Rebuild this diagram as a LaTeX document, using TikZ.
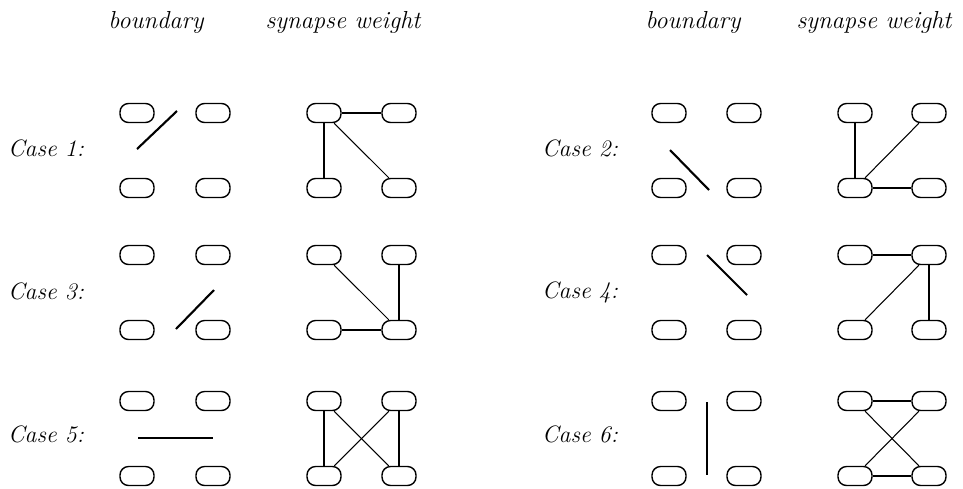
\documentclass[tikz,border=0pt]{standalone}
\usepackage{tikz}

\tikzset{
  cell/.style={draw, line width=0.8pt, rounded corners=0.17cm, minimum width=0.68cm, minimum height=0.38cm, inner sep=0pt},
  cut/.style={line width=1.2pt},
  syn/.style={line width=0.6pt},
  lbl/.style={font=\fontsize{13.5}{15}\selectfont\itshape},
  hdr/.style={font=\fontsize{14}{16}\selectfont\itshape}
}

\begin{document}
\begin{tikzpicture}[x=0.02cm, y=-0.02cm]
\useasboundingbox (0,0) rectangle (963,488);
% column headings
\node[hdr] (hb1) at (156,22) {boundary};
\node[hdr] (hs1) at (343,22) {synapse weight};
\node[hdr] (hb2) at (693,22) {boundary};
\node[hdr] (hs2) at (874,22) {synapse weight};
% case labels
\node[lbl] (c1) at (46,148) {Case 1:};
\node[lbl] (c2) at (580,148) {Case 2:};
\node[lbl] (c3) at (46,291) {Case 3:};
\node[lbl] (c4) at (580,292) {Case 4:};
\node[lbl] (c5) at (46,434) {Case 5:};
\node[lbl] (c6) at (580,434) {Case 6:};
% boundary cells, left side
\node[cell] (b1tl) at (137,113) {}; \node[cell] (b1tr) at (213,113) {}; \node[cell] (b1bl) at (137,188) {}; \node[cell] (b1br) at (213,188) {};
\node[cell] (b3tl) at (137,255) {}; \node[cell] (b3tr) at (213,255) {}; \node[cell] (b3bl) at (137,330) {}; \node[cell] (b3br) at (213,330) {};
\node[cell] (b5tl) at (137,401) {}; \node[cell] (b5tr) at (213,401) {}; \node[cell] (b5bl) at (137,476) {}; \node[cell] (b5br) at (213,476) {};
% synapse cells, left side
\node[cell] (s1tl) at (324,113) {}; \node[cell] (s1tr) at (399,113) {}; \node[cell] (s1bl) at (324,188) {}; \node[cell] (s1br) at (399,188) {};
\node[cell] (s3tl) at (324,255) {}; \node[cell] (s3tr) at (399,255) {}; \node[cell] (s3bl) at (324,330) {}; \node[cell] (s3br) at (399,330) {};
\node[cell] (s5tl) at (324,401) {}; \node[cell] (s5tr) at (399,401) {}; \node[cell] (s5bl) at (324,476) {}; \node[cell] (s5br) at (399,476) {};
% boundary cells, right side
\node[cell] (b2tl) at (669,113) {}; \node[cell] (b2tr) at (744,113) {}; \node[cell] (b2bl) at (669,188) {}; \node[cell] (b2br) at (744,188) {};
\node[cell] (b4tl) at (669,255) {}; \node[cell] (b4tr) at (744,255) {}; \node[cell] (b4bl) at (669,330) {}; \node[cell] (b4br) at (744,330) {};
\node[cell] (b6tl) at (669,401) {}; \node[cell] (b6tr) at (744,401) {}; \node[cell] (b6bl) at (669,476) {}; \node[cell] (b6br) at (744,476) {};
% synapse cells, right side
\node[cell] (s2tl) at (855,113) {}; \node[cell] (s2tr) at (929,113) {}; \node[cell] (s2bl) at (855,188) {}; \node[cell] (s2br) at (929,188) {};
\node[cell] (s4tl) at (855,255) {}; \node[cell] (s4tr) at (929,255) {}; \node[cell] (s4bl) at (855,330) {}; \node[cell] (s4br) at (929,330) {};
\node[cell] (s6tl) at (855,401) {}; \node[cell] (s6tr) at (929,401) {}; \node[cell] (s6bl) at (855,476) {}; \node[cell] (s6br) at (929,476) {};
% boundary lines
\draw[cut] (137,149) -- (177,111);
\draw[cut] (670,150) -- (709,190);
\draw[cut] (176,329) -- (214,290);
\draw[cut] (707,255) -- (747,295);
\draw[cut] (138,438) -- (213,438);
\draw[cut] (707,402) -- (707,475);
% synapse weights
\draw[syn] (s1tl) -- (s1tr); \draw[syn] (s1tl) -- (s1bl); \draw[syn] (s1tl) -- (s1br);
\draw[syn] (s2bl) -- (s2tl); \draw[syn] (s2bl) -- (s2tr); \draw[syn] (s2bl) -- (s2br);
\draw[syn] (s3br) -- (s3tl); \draw[syn] (s3br) -- (s3tr); \draw[syn] (s3br) -- (s3bl);
\draw[syn] (s4tr) -- (s4tl); \draw[syn] (s4tr) -- (s4bl); \draw[syn] (s4tr) -- (s4br);
\draw[syn] (s5tl) -- (s5bl); \draw[syn] (s5tl) -- (s5br); \draw[syn] (s5tr) -- (s5bl); \draw[syn] (s5tr) -- (s5br);
\draw[syn] (s6tl) -- (s6tr); \draw[syn] (s6tl) -- (s6br); \draw[syn] (s6tr) -- (s6bl); \draw[syn] (s6bl) -- (s6br);
\end{tikzpicture}
\end{document}
